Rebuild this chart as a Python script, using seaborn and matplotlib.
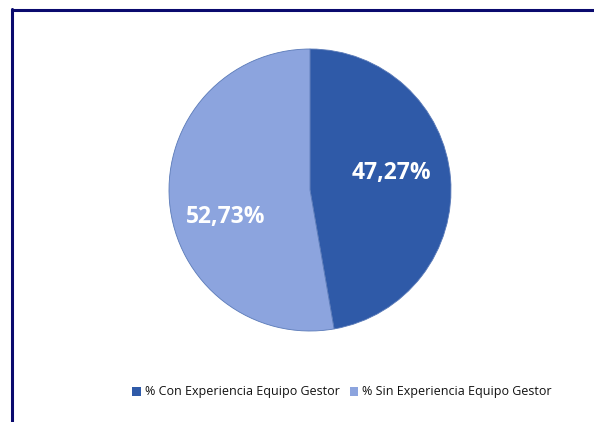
import matplotlib
matplotlib.use("Agg")
import matplotlib.pyplot as plt
from matplotlib.lines import Line2D
from matplotlib.patches import Patch
import seaborn as sns

categories = ["% Con Experiencia Equipo Gestor", "% Sin Experiencia Equipo Gestor"]
values = [47.27, 52.73]
labels = ["47,27%", "52,73%"]
colors = ["#2F5AA8", "#8CA4DE"]

sns.set_theme(style="white")
plt.rcParams["font.family"] = ["Open Sans", "DejaVu Sans"]

fig = plt.figure(figsize=(5.94, 4.22), dpi=100)
fig.patch.set_facecolor("white")

# frame lines (top and left only visible)
fig.add_artist(Line2D([11.5 / 594, 1], [1 - 10 / 422] * 2, color="#0A0A6E", lw=2.2, transform=fig.transFigure))
fig.add_artist(Line2D([12 / 594] * 2, [0, 1 - 9 / 422], color="#0A0A6E", lw=2.2, transform=fig.transFigure))

r = 141
cx, cy = 310, 190
ax = fig.add_axes([(cx - r) / 594, 1 - (cy + r) / 422, 2 * r / 594, 2 * r / 422])
wedges, _ = ax.pie(values, colors=colors, startangle=90, counterclock=False,
                   wedgeprops=dict(edgecolor="#5A7AB8", linewidth=0.6))
ax.set_aspect("equal")
ax.set_xlim(-1, 1)
ax.set_ylim(-1, 1)

ax.text(0.58, 0.12, labels[0], color="white", fontsize=16.5, fontweight="bold", ha="center", va="center")
ax.text(-0.6, -0.19, labels[1], color="white", fontsize=16.5, fontweight="bold", ha="center", va="center")

handles = [Patch(facecolor=c, edgecolor="none") for c in colors]
leg = fig.legend(handles, categories, loc="center", bbox_to_anchor=(342 / 594, 1 - 392 / 422),
                 ncol=2, frameon=False, fontsize=9, handlelength=0.7, handleheight=0.7,
                 handletextpad=0.3, columnspacing=0.8)
for t in leg.get_texts():
    t.set_color("#111111")

fig.savefig("out.png", dpi=100)
